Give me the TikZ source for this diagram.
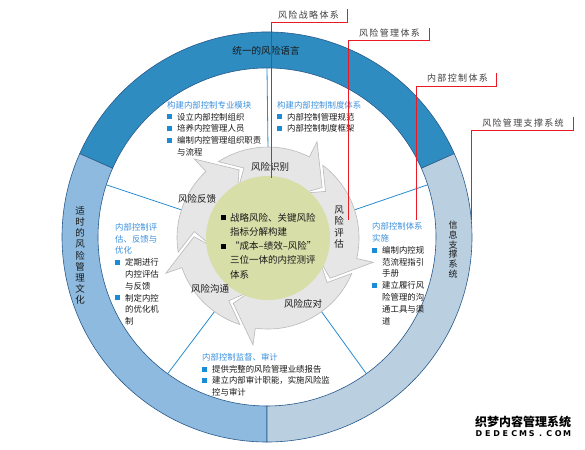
\documentclass[tikz,border=0pt]{standalone}
\usepackage{fontspec}
\setmainfont{Noto Sans CJK SC}
\newfontfamily\callfont[LetterSpace=15]{Noto Sans CJK SC}
\newfontfamily\wmlat{DejaVu Sans}
\usetikzlibrary{calc}
\definecolor{ringtop}{RGB}{46,140,192}
\definecolor{ringleft}{RGB}{141,186,222}
\definecolor{ringright}{RGB}{186,207,224}
\definecolor{ringline}{RGB}{40,90,140}
\definecolor{divblue}{RGB}{40,140,210}
\definecolor{titleblue}{RGB}{60,145,222}
\definecolor{bulblue}{RGB}{25,140,215}
\definecolor{bodytext}{RGB}{25,25,25}
\definecolor{cycfill}{RGB}{230,230,230}
\definecolor{cycline}{RGB}{185,185,185}
\definecolor{greenc}{RGB}{215,222,168}
\definecolor{callred}{RGB}{235,25,35}
\definecolor{calltext}{RGB}{64,64,64}
\newcommand\bsq{\textcolor{bulblue}{\raisebox{0.6pt}{\rule{5pt}{5pt}}}\hspace{5pt}}
\newcommand\ksq{\textcolor{black}{\raisebox{0.8pt}{\rule{5pt}{5pt}}}\hspace{4pt}}
\newcommand\cnt{\hspace*{10pt}}
\newcommand\wmc[1]{\makebox[8.8pt]{#1}}
\newcommand\cycarrow[2]{%
  \pgfmathsetmacro\cyA{#2+10}\pgfmathsetmacro\cyB{#2-10}\pgfmathsetmacro\cyC{#1-14}%
  \filldraw[cyc] (#1:91pt) arc[start angle=#1,end angle=\cyA,radius=91pt] -- (\cyA:108pt) -- (\cyB:74pt) -- (\cyA:46pt) -- (\cyA:56pt) arc[start angle=\cyA,end angle=#1,radius=56pt] -- (\cyC:74pt) -- cycle;}
\tikzset{
  sector/.style={draw=ringline,line width=0.6pt},
  divline/.style={draw=divblue,line width=0.8pt},
  cyc/.style={fill=cycfill,draw=cycline,line width=0.6pt},
  redline/.style={draw=callred,line width=1pt},
  calllbl/.style={inner sep=0pt,text=calltext,font=\callfont\fontsize{9}{10}\selectfont},
  blk/.style={anchor=north west,inner sep=0pt,align=left,text=bodytext,font=\fontsize{8.4}{11.8}\selectfont},
  cyclbl/.style={inner sep=0pt,text=bodytext,font=\fontsize{9.5}{11.5}\selectfont},
  ringlbl/.style={inner sep=0pt,text=bodytext,align=center},
}
\begin{document}
\begin{tikzpicture}[x=1pt,y=1pt]
\useasboundingbox (0,0) rectangle (585,-449);
\fill[white] (0,0) rectangle (585,-449);
\coordinate (C) at (267,-237);
\coordinate (G) at (268,-238);
% outer ring
\begin{scope}[shift={(267,-237)}]
\path[sector,fill=ringtop] (24:205pt) arc[start angle=24,end angle=156,radius=205pt] -- (156:169pt) arc[start angle=156,end angle=24,radius=169pt] -- cycle;
\path[sector,fill=ringleft] (156:205pt) arc[start angle=156,end angle=270,radius=205pt] -- (270:169pt) arc[start angle=270,end angle=156,radius=169pt] -- cycle;
\path[sector,fill=ringright] (-90:205pt) arc[start angle=-90,end angle=24,radius=205pt] -- (24:169pt) arc[start angle=24,end angle=-90,radius=169pt] -- cycle;
\end{scope}
% divider lines
\foreach \a [count=\i] in {90,18,-54,-126,162}{
  \coordinate (d\i a) at ($(C)+(\a:169pt)$);
  \coordinate (d\i b) at ($(G)+(\a:88pt)$);
}
\foreach \i in {1,...,5}{\draw[divline] (d\i a) -- (d\i b);}
% cycle arrows
\begin{scope}[shift={(268,-238)}]
\cycarrow{123}{53}
\cycarrow{53}{-23}
\cycarrow{-23}{-108}
\cycarrow{-108}{-171}
\cycarrow{-171}{-237}
\end{scope}
\fill[greenc] (G) circle[radius=62pt];
% cycle labels
\node[cyclbl] (cy1) at (270,-167) {风险识别};
\node[cyclbl,align=center] (cy2) at (339,-227) {风\\险\\评\\估};
\node[cyclbl] (cy3) at (303,-304) {风险应对};
\node[cyclbl] (cy4) at (210,-289) {风险沟通};
\node[cyclbl] (cy5) at (197,-199) {风险反馈};
% centre text
\node[anchor=north west,inner sep=0pt,align=left,text=bodytext,font=\fontsize{9.5}{14.2}\selectfont] (ctr) at (221,-213) {%
\ksq 战略风险、关键风险\\
\hspace*{9pt}指标分解构建\\
\ksq “成本–绩效–风险”\\
\hspace*{9pt}三位一体的内控测评\\
\hspace*{9pt}体系};
% ring labels
\node[ringlbl,font=\fontsize{9.6}{11}\selectfont] (rtop) at (266,-51) {统一的风险语言};
\node[ringlbl,font=\fontsize{9.5}{11.1}\selectfont] (rleft) at (80,-255.5) {适\\时\\的\\风\\险\\管\\理\\文\\化};
\node[ringlbl,font=\fontsize{9}{9.8}\selectfont] (rright) at (453,-249.5) {信\\息\\支\\撑\\系\\统};
% text blocks
\node[blk] (b1) at (167,-101) {{\color{titleblue}构建内部控制专业模块}\\
\bsq 设立内部控制组织\\
\bsq 培养内控管理人员\\
\bsq 编制内控管理组织职责\\
\cnt 与流程};
\node[blk] (b2) at (277,-101) {{\color{titleblue}构建内部控制制度体系}\\
\bsq 内部控制管理规范\\
\bsq 内部控制制度框架};
\node[blk] (b3) at (372,-222.5) {{\color{titleblue}内部控制体系}\\
{\color{titleblue}实施}\\
\bsq 编制内控规\\
\cnt 范流程指引\\
\cnt 手册\\
\bsq 建立履行风\\
\cnt 险管理的沟\\
\cnt 通工具与渠\\
\cnt 道};
\node[blk] (b4) at (115,-223) {{\color{titleblue}内部控制评}\\
{\color{titleblue}估、反馈与}\\
{\color{titleblue}优化}\\
\bsq 定期进行\\
\cnt 内控评估\\
\cnt 与反馈\\
\bsq 制定内控\\
\cnt 的优化机\\
\cnt 制};
\node[blk] (b5) at (202,-353) {{\color{titleblue}内部控制监督、审计}\\
\bsq 提供完整的风险管理业绩报告\\
\bsq 建立内部审计职能，实施风险监\\
\cnt 控与审计};
% red callouts
\coordinate (r1a) at (347,-9);  \coordinate (r1b) at (347,-23);  \coordinate (r1c) at (271,-23);  \coordinate (r1d) at (271,-178);
\coordinate (r2a) at (429,-28); \coordinate (r2b) at (429,-41);  \coordinate (r2c) at (348,-41);  \coordinate (r2d) at (348,-220);
\coordinate (r3a) at (496,-73); \coordinate (r3b) at (496,-87);  \coordinate (r3c) at (416,-87);  \coordinate (r3d) at (416,-220);
\coordinate (r4a) at (573,-117);\coordinate (r4b) at (573,-131); \coordinate (r4c) at (471,-131); \coordinate (r4d) at (471,-220);
\foreach \i in {1,...,4}{\draw[redline] (r\i a) -- (r\i b) -- (r\i c) -- (r\i d);}
\node[calllbl] (c1) at (308.5,-15) {风险战略体系};
\node[calllbl] (c2) at (389.5,-33) {风险管理体系};
\node[calllbl] (c3) at (457.5,-78) {内部控制体系};
\node[calllbl] (c4) at (523,-123) {风险管理支撑系统};
% watermark
\node[inner sep=0pt,font=\bfseries\fontsize{12}{13}\selectfont] (wm1) at (523,-422) {织梦内容管理系统};
\node[inner sep=0pt,font=\wmlat\bfseries\fontsize{8}{9}\selectfont] (wm2) at (523,-434) {\wmc{D}\wmc{E}\wmc{D}\wmc{E}\wmc{C}\wmc{M}\wmc{S}\wmc{.}\wmc{C}\wmc{O}\wmc{M}};
\end{tikzpicture}
\end{document}
